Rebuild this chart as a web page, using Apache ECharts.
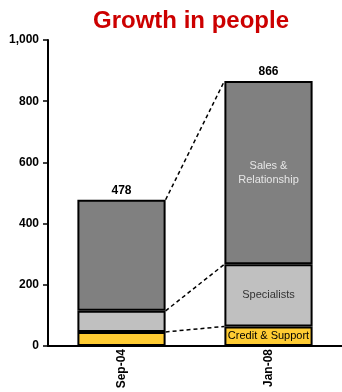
<!DOCTYPE html>
<html>
<head>
<meta charset="utf-8">
<script src="https://cdn.jsdelivr.net/npm/echarts@6/dist/echarts.min.js"></script>
<style>
  html, body { margin: 0; padding: 0; background: #fff; }
  #chart { width: 342px; height: 392px; }
</style>
</head>
<body>
<div id="chart"></div>
<script>
// Headcount by team, stacked per period
var periods = ['Sep-04', 'Jan-08'];
var creditSupport = [46, 64];
var specialists = [69, 203];
var salesRelationship = [363, 599];
var totals = [478, 866];
var yTicks = [0, 200, 400, 600, 800, 1000];

// Cumulative boundaries between segments, used for the connector lines
var boundaries = [];
for (var k = 0; k < 3; k++) {
  var row = [];
  for (var i = 0; i < periods.length; i++) {
    var v = creditSupport[i];
    if (k >= 1) v += specialists[i];
    if (k >= 2) v += salesRelationship[i];
    row.push(v);
  }
  boundaries.push(row);
}

var FONT = 'Liberation Sans, Arial, sans-serif';
var segStyle = function (color) {
  return { color: color, borderColor: '#000', borderWidth: 2 };
};
var insideLabel = function (text, color) {
  return { show: true, position: 'inside', formatter: text, color: color,
    fontSize: 11, fontFamily: FONT, lineHeight: 14 };
};

var chart = echarts.init(document.getElementById('chart'));
chart.setOption({
  animation: false,
  title: {
    text: 'Growth in people',
    left: 88,
    top: 4,
    textStyle: { color: '#cc0000', fontSize: 24, fontWeight: 'bold', fontFamily: FONT }
  },
  grid: { left: 48, right: 0, top: 40, bottom: 46, containLabel: false, outerBoundsMode: 'none' },
  xAxis: {
    type: 'category',
    data: periods,
    axisLine: { lineStyle: { color: '#000', width: 2 } },
    axisTick: { show: false },
    axisLabel: {
      rotate: 90, margin: 3, color: '#000',
      fontSize: 12, fontWeight: 'bold', fontFamily: FONT
    }
  },
  yAxis: {
    type: 'value',
    min: yTicks[0],
    max: yTicks[yTicks.length - 1],
    interval: 200,
    splitLine: { show: false },
    axisLine: { show: true, lineStyle: { color: '#000', width: 2 } },
    axisTick: { show: true, length: 5, lineStyle: { color: '#000', width: 1.5 } },
    axisLabel: {
      margin: 9, color: '#000', fontSize: 12, fontWeight: 'bold', fontFamily: FONT,
      formatter: function (v) { return v.toLocaleString('en-US'); }
    }
  },
  series: [
    {
      name: 'Credit & Support', type: 'bar', stack: 'people', barWidth: '60%',
      itemStyle: segStyle('#ffcc33'),
      data: creditSupport.map(function (v, i) {
        return i === 1 ? { value: v, label: insideLabel('Credit & Support', '#000') } : v;
      })
    },
    {
      name: 'Specialists', type: 'bar', stack: 'people',
      itemStyle: segStyle('#c0c0c0'),
      data: specialists.map(function (v, i) {
        return i === 1 ? { value: v, label: insideLabel('Specialists', '#333') } : v;
      })
    },
    {
      name: 'Sales & Relationship', type: 'bar', stack: 'people',
      itemStyle: segStyle('#808080'),
      data: salesRelationship.map(function (v, i) {
        return i === 1 ? { value: v, label: insideLabel('Sales &\nRelationship', '#e6e6e6') } : v;
      })
    },
    {
      // Dashed connectors from the first bar's segment edges to the second bar's
      type: 'custom',
      silent: true,
      z: 5,
      data: boundaries,
      renderItem: function (params, api) {
        var b = boundaries[params.dataIndex];
        var half = api.size([1, 0])[0] * 0.3;
        var p1 = api.coord([0, b[0]]);
        var p2 = api.coord([1, b[1]]);
        return {
          type: 'line',
          shape: { x1: p1[0] + half, y1: p1[1], x2: p2[0] - half, y2: p2[1] },
          style: { stroke: '#000', lineWidth: 1.5, lineDash: [4, 3] }
        };
      }
    },
    {
      // Total headcount above each bar
      type: 'custom',
      silent: true,
      z: 6,
      data: totals.map(function (t, i) { return [i, t]; }),
      renderItem: function (params, api) {
        var p = api.coord([api.value(0), api.value(1)]);
        return {
          type: 'text',
          x: p[0], y: p[1] - 3,
          style: {
            text: String(totals[params.dataIndex]),
            align: 'center', verticalAlign: 'bottom',
            fill: '#000', font: 'bold 12px ' + FONT
          }
        };
      }
    }
  ]
});
</script>
</body>
</html>
